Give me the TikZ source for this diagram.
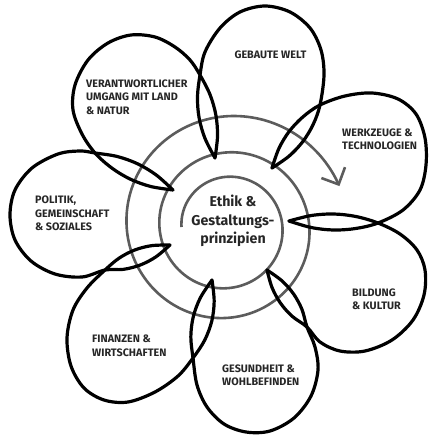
\documentclass[tikz,border=0pt]{standalone}
\usepackage{fontspec}
\setmainfont{Fira Sans}
\usetikzlibrary{arrows.meta,calc}
\definecolor{spiralgray}{HTML}{5C5C5C}
\tikzset{
  petal/.style={draw=black, line width=3.2pt, line cap=round, line join=round},
  spiralline/.style={draw=spiralgray, line width=2.6pt},
  lbl/.style={font=\fontsize{10.8}{13.5}\selectfont\bfseries, text=black!85, align=left, anchor=west, inner sep=0pt},
  ctr/.style={font=\fontsize{14.2}{18.5}\selectfont\bfseries, text=black!85, align=center, inner sep=0pt},
}
% lens helper: #1 name, #2 tip, #3 crossing, #4 half width
\newcommand\mklens[4]{%
  \coordinate (#1a1) at ($(#2)!0.25!(#3)!0.75*#4!90:(#3)$);
  \coordinate (#1a2) at ($(#2)!0.5!(#3)!#4!90:(#3)$);
  \coordinate (#1a3) at ($(#2)!0.75!(#3)!0.75*#4!90:(#3)$);
  \coordinate (#1b1) at ($(#2)!0.25!(#3)!0.75*#4!-90:(#3)$);
  \coordinate (#1b2) at ($(#2)!0.5!(#3)!#4!-90:(#3)$);
  \coordinate (#1b3) at ($(#2)!0.75!(#3)!0.75*#4!-90:(#3)$);
}
\begin{document}
\begin{tikzpicture}[x=1pt,y=-1pt]
\useasboundingbox (0,0) rectangle (428,436);
% tips and crossings
\coordinate (T1) at (215,158); \coordinate (C1) at (200,75);
\coordinate (T2) at (272,168); \coordinate (C2) at (320,105);
\coordinate (T3) at (289,221); \coordinate (C3) at (378,223);
\coordinate (T4) at (267,270); \coordinate (C4) at (307,327);
\coordinate (T5) at (212,280); \coordinate (C5) at (193,358);
\coordinate (T6) at (170,245); \coordinate (C6) at (105,270);
\coordinate (T7) at (173,190); \coordinate (C7) at (95,153);
\mklens{La}{T1}{C1}{8.5pt}
\mklens{Lb}{T2}{C2}{8.5pt}
\mklens{Lc}{T3}{C3}{8pt}
\mklens{Ld}{T4}{C4}{8pt}
\mklens{Le}{T5}{C5}{9.5pt}
\mklens{Lf}{T6}{C6}{8pt}
\mklens{Lg}{T7}{C7}{8.5pt}
% spiral
\draw[spiralline, -{Straight Barb[length=13pt,width=26pt]}]
  plot[domain=0:880, samples=260, smooth, variable=\t]
  ({227+45.5*exp(0.001095*\t)*cos(180+\t)}, {227+45.5*exp(0.001095*\t)*sin(180+\t)});
% petals (each leaves its first tip on the counter-clockwise side and reaches the next tip on the clockwise side)
\draw[petal] plot[smooth, tension=0.55] coordinates {(T1) (Laa1) (Laa2) (Laa3) (C1) (205,52) (220,28) (240,12) (265,6) (290,12) (310,28) (321,50) (324,75) (C2) (Lbb3) (Lbb2) (Lbb1) (T2)};
\draw[petal] plot[smooth, tension=0.55] coordinates {(T2) (Lba1) (Lba2) (Lba3) (C2) (345,96) (372,93) (398,99) (416,114) (425,138) (426,165) (420,190) (403,210) (C3) (Lcb3) (Lcb2) (Lcb1) (T3)};
\draw[petal] plot[smooth, tension=0.55] coordinates {(T3) (Lca1) (Lca2) (Lca3) (C3) (400,234) (417,250) (425,270) (424,295) (413,320) (392,340) (365,351) (340,351) (320,342) (C4) (Ldb3) (Ldb2) (Ldb1) (T4)};
\draw[petal] plot[smooth, tension=0.55] coordinates {(T4) (Lda1) (Lda2) (Lda3) (C4) (315,347) (318,370) (311,396) (294,418) (270,431) (246,432) (224,424) (207,407) (197,385) (C5) (Leb3) (Leb2) (Leb1) (T5)};
\draw[petal] plot[smooth, tension=0.55] coordinates {(T5) (Lea1) (Lea2) (Lea3) (C5) (178,376) (155,392) (128,402) (104,400) (84,388) (71,366) (67,338) (73,310) (87,288) (C6) (Lfb3) (Lfb2) (Lfb1) (T6)};
\draw[petal] plot[smooth, tension=0.55] coordinates {(T6) (Lfa1) (Lfa2) (Lfa3) (C6) (82,277) (55,274) (31,261) (15,240) (10,215) (15,190) (32,168) (58,154) (80,151) (C7) (Lgb3) (Lgb2) (Lgb1) (T7)};
\draw[petal] plot[smooth, tension=0.55] coordinates {(T7) (Lga1) (Lga2) (Lga3) (C7) (82,134) (73,110) (75,85) (88,60) (108,43) (131,35) (155,37) (175,47) (190,60) (C1) (Lab3) (Lab2) (Lab1) (T1)};
% labels
\node[ctr] (center) at (233,221) {Ethik \&\\Gestaltungs-\\prinzipien};
\node[lbl, anchor=center] (gebaut) at (270.5,55) {GEBAUTE WELT};
\node[lbl] (werkzeug) at (342,139.5) {WERKZEUGE \&\\TECHNOLOGIEN};
\node[lbl] (bildung) at (352,299.5) {BILDUNG\\\& KULTUR};
\node[lbl] (gesund) at (222,375.5) {GESUNDHEIT \&\\WOHLBEFINDEN};
\node[lbl] (finanz) at (92,346) {FINANZEN \&\\WIRTSCHAFTEN};
\node[lbl] (politik) at (35,213.5) {POLITIK,\\GEMEINSCHAFT\\\& SOZIALES};
\node[lbl] (verant) at (86,97) {VERANTWORTLICHER\\UMGANG MIT LAND\\\& NATUR};
\end{tikzpicture}
\end{document}
